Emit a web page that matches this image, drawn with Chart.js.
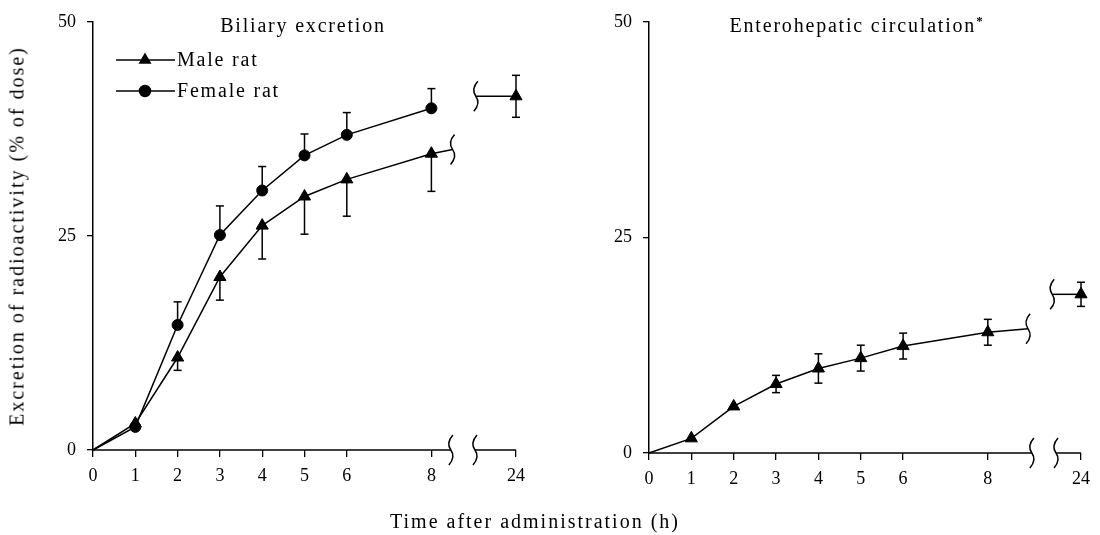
<!DOCTYPE html>
<html>
<head>
<meta charset="utf-8">
<script src="https://cdn.jsdelivr.net/npm/chart.js@4.4.1/dist/chart.umd.min.js"></script>
<style>
  body { margin: 0; background: #fff; }
  #wrap { position: relative; width: 1100px; height: 535px; overflow: hidden; font-family: "Liberation Serif", "DejaVu Serif", serif; color: #000; }
  canvas { position: absolute; top: 0; }
  .txt { position: absolute; font-size: 20px; letter-spacing: 1.8px; white-space: nowrap; transform: translate(-50%, -50%); }
  .ytitle { transform: translate(-50%, -50%) rotate(-90deg); letter-spacing: 2px; }
  sup { font-size: 13px; font-weight: bold; }
</style>
</head>
<body>
<div id="wrap">
  <canvas id="left" width="550" height="535" style="left:0"></canvas>
  <canvas id="right" width="550" height="535" style="left:550px"></canvas>
  <div class="txt" style="left:303px; top:25px">Biliary excretion</div>
  <div class="txt" style="left:857px; top:25px">Enterohepatic circulation<sup>*</sup></div>
  <div class="txt ytitle" style="left:17px; top:236px">Excretion of radioactivity (% of dose)</div>
  <div class="txt" style="left:535px; top:521px; letter-spacing:2px">Time after administration (h)</div>
</div>
<script>
// sampling times (h); 24 h sits after the axis break
const hours = [0, 1, 2, 3, 4, 5, 6, 8];
const tickLabels = ['0', '1', '2', '3', '4', '5', '6', '8', '24'];

// biliary excretion (% of dose)
const maleBiliary = [0, 3.1, 10.8, 20.2, 26.2, 29.6, 31.6, 34.6];
const maleBiliarySd = [0, 0, 1.5, 2.7, 3.9, 4.4, 4.3, 4.4];
const femaleBiliary = [0, 2.7, 14.6, 25.1, 30.3, 34.4, 36.8, 39.9];
const femaleBiliarySd = [0, 0, 2.7, 3.4, 2.8, 2.5, 2.6, 2.3];
const maleBiliary24 = [41.3];
const maleBiliary24Sd = [2.45];
const maleBiliaryTail = [35.1];

// enterohepatic circulation (% of dose), male rat
const entero = [0, 1.7, 5.4, 8.0, 9.8, 11.0, 12.4, 14.0];
const enteroSd = [0, 0, 0, 1.0, 1.7, 1.5, 1.5, 1.5];
const entero24 = [18.4];
const entero24Sd = [1.4];
const enteroTail = [14.4];

// draws error bars, the broken x axis, break marks and legend
const panelDecor = {
  id: 'panelDecor',
  afterDatasetsDraw(chart, args, opts) {
    const { ctx, scales: { x, y } } = chart;
    const seg = (x1, y1, x2, y2) => { ctx.beginPath(); ctx.moveTo(x1, y1); ctx.lineTo(x2, y2); ctx.stroke(); };
    const curl = (px, py) => {
      ctx.beginPath();
      ctx.moveTo(px + 2, py - 15);
      ctx.quadraticCurveTo(px - 5, py - 7, px, py);
      ctx.quadraticCurveTo(px + 5, py + 7, px - 2, py + 15);
      ctx.stroke();
    };
    ctx.save();
    ctx.strokeStyle = '#000';
    ctx.lineWidth = 1.5;

    opts.errors.forEach(e => {
      e.sd.forEach((sd, i) => {
        if (!sd) return;
        const px = x.getPixelForValue(e.xs[i]);
        const py = y.getPixelForValue(e.ys[i]);
        const top = e.dir === 'down' ? py : y.getPixelForValue(e.ys[i] + sd);
        const bot = e.dir === 'up' ? py : y.getPixelForValue(e.ys[i] - sd);
        seg(px, top, px, bot);
        if (e.dir !== 'down') seg(px - 4, top, px + 4, top);
        if (e.dir !== 'up') seg(px - 4, bot, px + 4, bot);
      });
    });

    const y0 = y.getPixelForValue(0);
    const b1 = x.getPixelForValue(opts.axisBreak[0]);
    const b2 = x.getPixelForValue(opts.axisBreak[1]);
    seg(x.getPixelForValue(0), y0, b1, y0);
    seg(b2, y0, x.getPixelForValue(x.max), y0);
    curl(b1, y0);
    curl(b2, y0);

    opts.curls.forEach(c => curl(x.getPixelForValue(c.x), y.getPixelForValue(c.y)));

    if (opts.legend) {
      ctx.font = '20px "Liberation Serif", serif';
      ctx.letterSpacing = '1.8px';
      ctx.textBaseline = 'middle';
      ctx.fillStyle = '#000';
      opts.legend.forEach(l => {
        seg(116, l.y, 175, l.y);
        Chart.helpers.drawPoint(ctx, { pointStyle: l.style, radius: l.r, rotation: 0, borderWidth: 1 }, 145, l.y);
        ctx.fillText(l.text, 177, l.y + 1);
      });
    }
    ctx.restore();
  }
};

function pts(xs, ys) {
  return xs.map((h, i) => ({ x: h, y: ys[i] }));
}

function lineSet(label, data, style, radiusFn) {
  return {
    label: label,
    data: data,
    borderColor: '#000',
    backgroundColor: '#000',
    borderWidth: 1.5,
    pointStyle: style,
    pointRadius: radiusFn,
    pointBorderWidth: 1,
    tension: 0,
    clip: false
  };
}

function makePanel(id, datasets, pos24, decor, padding) {
  const tickVals = hours.concat([pos24]);
  return new Chart(document.getElementById(id), {
    type: 'line',
    data: { datasets: datasets },
    plugins: [panelDecor],
    options: {
      responsive: false,
      animation: false,
      layout: { padding: padding },
      plugins: {
        legend: { display: false },
        tooltip: { enabled: false },
        panelDecor: decor
      },
      scales: {
        x: {
          type: 'linear',
          min: 0,
          max: pos24,
          afterBuildTicks: s => { s.ticks = tickVals.map(v => ({ value: v })); },
          afterFit: s => { s.height = 45; },
          border: { display: false },
          grid: { drawOnChartArea: false, drawTicks: true, tickLength: 7, color: '#000', lineWidth: 1.3 },
          ticks: {
            autoSkip: false, maxRotation: 0, padding: 8, color: '#000',
            font: { family: '"Liberation Serif", serif', size: 18 },
            callback: (v, i) => tickLabels[i]
          }
        },
        y: {
          min: 0,
          max: 50,
          afterFit: s => { s.width = 50; },
          border: { display: true, color: '#000', width: 1.5 },
          grid: { drawOnChartArea: false, drawTicks: true, tickLength: 6, color: '#000', lineWidth: 1.3 },
          ticks: {
            stepSize: 25, padding: 11, color: '#000',
            font: { family: '"Liberation Serif", serif', size: 18 }
          }
        }
      }
    }
  });
}

// left panel: biliary excretion
const leftPos24 = 10;
makePanel('left', [
  lineSet('Male rat', pts(hours, maleBiliary).concat([{ x: 8.5, y: maleBiliaryTail[0] }]), 'triangle',
    c => (c.raw.x === 0 || c.raw.x > 8) ? 0 : 7),
  lineSet('Male rat 24 h', [{ x: 9.05, y: maleBiliary24[0] }, { x: leftPos24, y: maleBiliary24[0] }], 'triangle',
    c => c.raw.x === leftPos24 ? 7 : 0),
  lineSet('Female rat', pts(hours, femaleBiliary), 'circle',
    c => c.raw.x === 0 ? 0 : 5.5)
], leftPos24, {
  axisBreak: [8.46, 9.03],
  curls: [{ x: 8.5, y: maleBiliaryTail[0] }, { x: 9.05, y: maleBiliary24[0] }],
  errors: [
    { xs: hours, ys: maleBiliary, sd: maleBiliarySd, dir: 'down' },
    { xs: hours, ys: femaleBiliary, sd: femaleBiliarySd, dir: 'up' },
    { xs: [leftPos24], ys: maleBiliary24, sd: maleBiliary24Sd, dir: 'both' }
  ],
  legend: [
    { text: 'Male rat', style: 'triangle', r: 6, y: 60 },
    { text: 'Female rat', style: 'circle', r: 5.5, y: 91 }
  ]
}, { left: 43, right: 34, top: 15, bottom: 40 });

// right panel: enterohepatic circulation
const rightPos24 = 10.2;
makePanel('right', [
  lineSet('Male rat', pts(hours, entero).concat([{ x: 8.95, y: enteroTail[0] }]), 'triangle',
    c => (c.raw.x === 0 || c.raw.x > 8) ? 0 : 7),
  lineSet('Male rat 24 h', [{ x: 9.52, y: entero24[0] }, { x: rightPos24, y: entero24[0] }], 'triangle',
    c => c.raw.x === rightPos24 ? 7 : 0)
], rightPos24, {
  axisBreak: [9.04, 9.61],
  curls: [{ x: 8.95, y: enteroTail[0] }, { x: 9.52, y: entero24[0] }],
  errors: [
    { xs: hours, ys: entero, sd: enteroSd, dir: 'both' },
    { xs: [rightPos24], ys: entero24, sd: entero24Sd, dir: 'both' }
  ]
}, { left: 49, right: 19, top: 15, bottom: 37 });
</script>
</body>
</html>
